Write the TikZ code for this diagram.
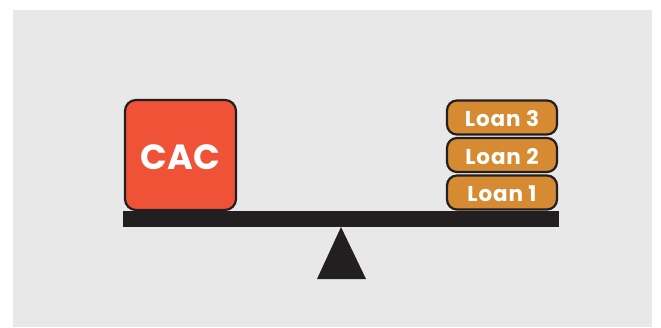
\documentclass[tikz,border=0pt]{standalone}
\usepackage{fontspec}
\setmainfont{Poppins}
\newfontfamily\lblfont[LetterSpace=4]{Poppins}
\definecolor{bgray}{HTML}{E8E8E8}
\definecolor{dark}{HTML}{231F20}
\definecolor{cacred}{HTML}{F05238}
\definecolor{loanor}{HTML}{D68B32}
\tikzset{
  cacbox/.style={draw=dark, line width=2.2pt, fill=cacred, rounded corners=11pt},
  loanbox/.style={draw=dark, line width=2.2pt, fill=loanor, rounded corners=10pt},
  lbl/.style={text=white, font=\lblfont\bfseries\fontsize{21.5}{24}\selectfont},
}
\begin{document}
\begin{tikzpicture}[x=1pt,y=-1pt]
\useasboundingbox (0,0) rectangle (661,327);
\fill[white] (0,0) rectangle (661,327);
\fill[bgray] (13,10) rectangle (652,327);
% beam and fulcrum
\fill[dark] (123,211) rectangle (559,227);
\fill[dark] (341,227) -- (366,279) -- (317,279) -- cycle;
% CAC
\draw[cacbox] (125,100) rectangle (236,210);
\node[text=white, font=\bfseries\fontsize{35}{40}\selectfont] (cac) at (180.5,157) {CAC};
% Loans
\draw[loanbox] (447,175.5) rectangle (557,209.5);
\node[lbl] (l1) at (502,194) {Loan 1};
\draw[loanbox] (447,138) rectangle (557,172);
\node[lbl] (l2) at (502,156.5) {Loan 2};
\draw[loanbox] (447,100.5) rectangle (557,134.5);
\node[lbl] (l3) at (502,119) {Loan 3};
\end{tikzpicture}
\end{document}
